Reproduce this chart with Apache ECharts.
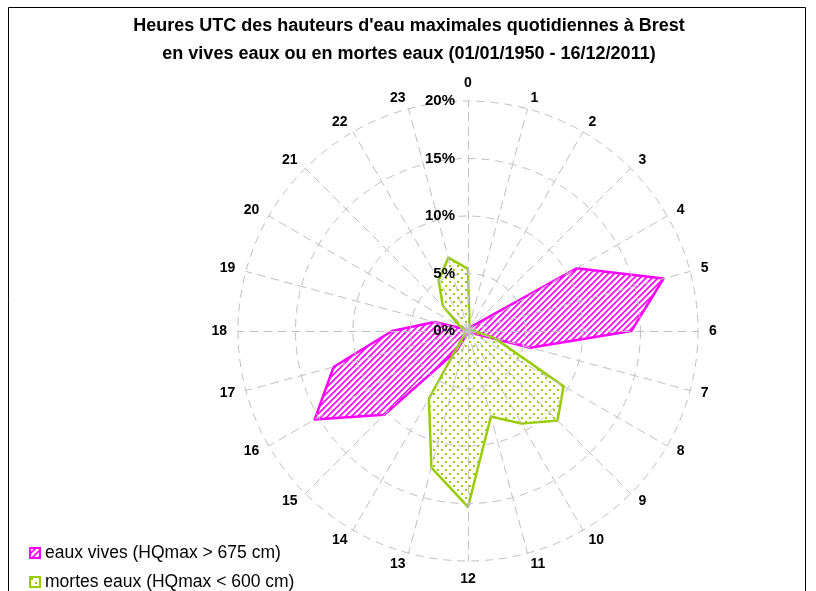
<!DOCTYPE html>
<html>
<head>
<meta charset="utf-8">
<script src="https://cdn.jsdelivr.net/npm/echarts@6/dist/echarts.min.js"></script>
<style>
  html, body { margin: 0; padding: 0; background: #fff; }
  #chart { width: 816px; height: 591px; }
</style>
</head>
<body>
<div id="chart"></div>
<script>
// heures UTC (0 en haut, sens horaire)
var hours = ["0", "1", "2", "3", "4", "5", "6", "7", "8", "9", "10", "11",
  "12", "13", "14", "15", "16", "17", "18", "19", "20", "21", "22", "23"];
// pourcentage des jours, par heure
var vivesEaux = [0.2, 0.2, 0.3, 0.7, 10.9, 17.6, 14.2, 5.6, 0.3, 0.2, 0.1, 0.1,
  0.1, 0.2, 2.0, 10.3, 15.4, 12.1, 6.6, 3.0, 0.4, 0.2, 0.1, 0.1];
var mortesEaux = [5.4, 0.5, 0.2, 0.2, 0.2, 0.3, 0.5, 2.4, 9.6, 11.0, 9.3, 7.7,
  15.3, 12.3, 6.8, 0.5, 0.2, 0.2, 0.2, 0.3, 0.8, 3.1, 5.1, 6.6];
var ringTicks = ["0%", "5%", "10%", "15%", "20%"];
var seriesNames = ["eaux vives (HQmax > 675 cm)", "mortes eaux (HQmax < 600 cm)"];

var MAGENTA = "#FF00FF";
var GREEN = "#99CC00";
var FONT = "Liberation Sans, Arial, sans-serif";

// motif hachuré (eaux vives)
function hatch(color) {
  var c = document.createElement("canvas");
  c.width = 6; c.height = 6;
  var ctx = c.getContext("2d");
  ctx.strokeStyle = color;
  ctx.lineWidth = 1.6;
  ctx.beginPath();
  ctx.moveTo(-1, 7); ctx.lineTo(7, -1);
  ctx.moveTo(-4, 4); ctx.lineTo(4, -4);
  ctx.moveTo(2, 10); ctx.lineTo(10, 2);
  ctx.stroke();
  return c;
}
// motif pointillé (mortes eaux)
function dots(color) {
  var c = document.createElement("canvas");
  c.width = 8; c.height = 8;
  var ctx = c.getContext("2d");
  ctx.fillStyle = color;
  ctx.fillRect(1, 1, 2, 2);
  ctx.fillRect(5, 5, 2, 2);
  return c;
}
var hatchPattern = { image: hatch(MAGENTA), repeat: "repeat" };
var dotPattern = { image: dots(GREEN), repeat: "repeat" };

// radar ECharts tourne dans le sens anti-horaire : on inverse l'ordre
var order = [];
for (var k = 0; k < hours.length; k++) {
  order.push((hours.length - k) % hours.length);
}
var indicators = order.map(function (h, k) {
  var ind = { name: hours[h], min: 0, max: 20 };
  if (k === 0) {
    ind.axisLabel = {
      show: true,
      margin: 13,
      formatter: function (v) { return ringTicks[v / 5]; },
      color: "#000",
      fontWeight: "bold",
      fontSize: 15,
      fontFamily: FONT
    };
  }
  return ind;
});

function legendBox(i, top, color, pattern) {
  return {
    orient: "vertical",
    left: 24,
    top: top,
    itemWidth: 10,
    itemHeight: 10,
    icon: "rect",
    textStyle: { fontFamily: FONT, fontSize: 17.5, color: "#000" },
    data: [{ name: seriesNames[i], itemStyle: { color: pattern, borderColor: color, borderWidth: 2 } }]
  };
}

var myChart = echarts.init(document.getElementById("chart"));
var option = {
  backgroundColor: "#fff",
  animation: false,
  title: {
    text: "Heures UTC des hauteurs d'eau maximales quotidiennes à Brest\nen vives eaux ou en mortes eaux (01/01/1950 - 16/12/2011)",
    left: 404,
    textAlign: "center",
    top: 7,
    textStyle: {
      fontFamily: FONT,
      fontSize: 18,
      fontWeight: "bold",
      color: "#000",
      lineHeight: 28
    }
  },
  legend: [
    legendBox(0, 539, MAGENTA, hatchPattern),
    legendBox(1, 568, GREEN, dotPattern)
  ],
  radar: {
    center: [468, 331],
    radius: 230,
    startAngle: 90,
    shape: "circle",
    splitNumber: 4,
    nameGap: 11,
    z: 3,
    indicator: indicators,
    axisName: {
      color: "#000",
      fontWeight: "bold",
      fontSize: 14,
      fontFamily: FONT
    },
    splitArea: { show: false },
    splitLine: { lineStyle: { color: "#c0c0c0", width: 1, type: [8, 6] } },
    axisLine: { lineStyle: { color: "#c0c0c0", width: 1, type: [8, 6] } },
    axisTick: { show: false },
    axisLabel: { show: false }
  },
  graphic: [{
    type: "rect",
    shape: { x: 8.5, y: 7.5, width: 797, height: 620 },
    style: { fill: null, stroke: "#000", lineWidth: 1 },
    silent: true
  }],
  series: [{
    type: "radar",
    symbol: "none",
    z: 2,
    data: [
      {
        name: seriesNames[0],
        value: order.map(function (h) { return vivesEaux[h]; }),
        lineStyle: { color: MAGENTA, width: 2.5 },
        itemStyle: { color: MAGENTA },
        areaStyle: { color: hatchPattern, opacity: 1 }
      },
      {
        name: seriesNames[1],
        value: order.map(function (h) { return mortesEaux[h]; }),
        lineStyle: { color: GREEN, width: 2.5 },
        itemStyle: { color: GREEN },
        areaStyle: { color: dotPattern, opacity: 1 }
      }
    ]
  }]
};
if (option && typeof option === "object") {
  myChart.setOption(option);
}
</script>
</body>
</html>
